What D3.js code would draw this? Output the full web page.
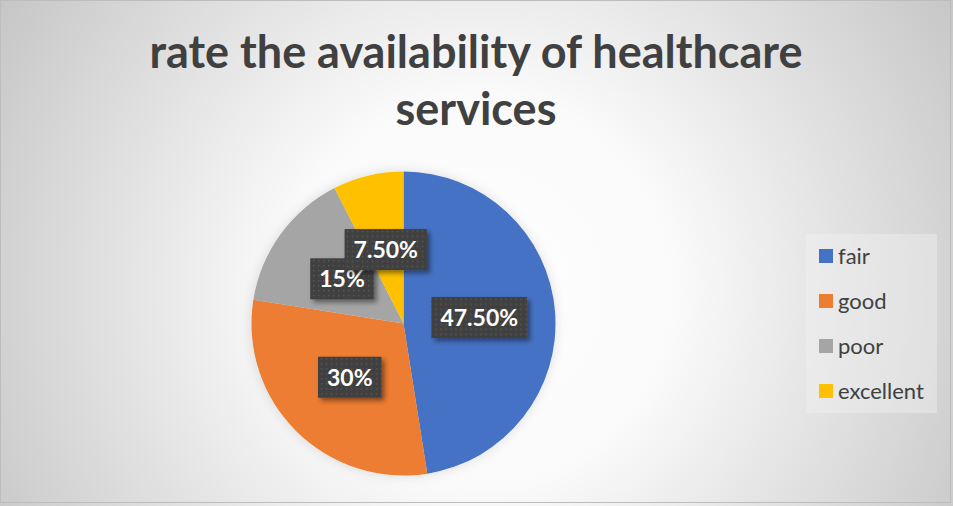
<!DOCTYPE html>
<head>
    <script type="text/javascript" src="https://d3js.org/d3.v7.min.js"></script>
    <style>
        body { margin: 0; }
        .chart text { font-family: Lato, "Open Sans", sans-serif; }
    </style>
</head>

<svg class="chart"></svg>

<script>

    var categories = ["fair", "good", "poor", "excellent"];
    var values = [47.5, 30, 15, 7.5];
    var labels = ["47.50%", "30%", "15%", "7.50%"];
    var colors = ["#4472C4", "#ED7D31", "#A5A5A5", "#FFC000"];
    var titleLines = ["rate the availability of healthcare", "services"];

    var width = 953,
        height = 506,
        cx = 403.5,
        cy = 323.5,
        radius = 152;

    var chart = d3.select(".chart")
        .attr("width", width)
        .attr("height", height);

    var defs = chart.append("defs");

    // background: soft radial gradient, white in the middle
    var bg = defs.append("radialGradient")
        .attr("id", "bg")
        .attr("gradientUnits", "userSpaceOnUse")
        .attr("cx", 480).attr("cy", 290).attr("r", 560);
    bg.append("stop").attr("offset", "0%").attr("stop-color", "#ffffff");
    bg.append("stop").attr("offset", "35%").attr("stop-color", "#fafafa");
    bg.append("stop").attr("offset", "100%").attr("stop-color", "#c6c6c6");

    // dotted texture for the label boxes
    var pat = defs.append("pattern")
        .attr("id", "dots")
        .attr("patternUnits", "userSpaceOnUse")
        .attr("width", 5).attr("height", 5);
    pat.append("rect").attr("width", 5).attr("height", 5).attr("fill", "#3f3f3f");
    pat.append("rect").attr("x", 1).attr("y", 1).attr("width", 1.5).attr("height", 1.5).attr("fill", "#595959");

    var shadow = defs.append("filter").attr("id", "shadow")
        .attr("x", "-20%").attr("y", "-20%").attr("width", "150%").attr("height", "160%");
    shadow.append("feDropShadow")
        .attr("dx", 3).attr("dy", 3).attr("stdDeviation", 2.5)
        .attr("flood-color", "#000").attr("flood-opacity", 0.45);

    var pieShadow = defs.append("filter").attr("id", "pieShadow")
        .attr("x", "-20%").attr("y", "-20%").attr("width", "140%").attr("height", "140%");
    pieShadow.append("feDropShadow")
        .attr("dx", 0).attr("dy", 0).attr("stdDeviation", 6)
        .attr("flood-color", "#000").attr("flood-opacity", 0.12);

    chart.append("rect")
        .attr("width", width).attr("height", height)
        .attr("fill", "url(#bg)");
    chart.append("rect")
        .attr("x", 0.5).attr("y", 0.5)
        .attr("width", width - 3).attr("height", height - 4)
        .attr("fill", "none").attr("stroke", "#bdbdbd");

    // title
    chart.append("g").selectAll("text")
        .data(titleLines)
        .enter().append("text")
        .attr("x", 476)
        .attr("y", function(d, i) { return 68 + i * 57; })
        .attr("text-anchor", "middle")
        .attr("fill", "#404040")
        .style("font-weight", "bold")
        .style("font-size", "45px")
        .text(function(d) { return d; });

    // pie
    var pie = d3.pie().sort(null).value(function(d) { return d; });
    var arc = d3.arc().innerRadius(0).outerRadius(radius);
    var arcs = pie(values);

    var g = chart.append("g")
        .attr("transform", "translate(" + cx + "," + cy + ")");

    g.append("g").attr("filter", "url(#pieShadow)")
        .selectAll("path")
        .data(arcs)
        .enter().append("path")
        .attr("d", arc)
        .attr("fill", function(d, i) { return colors[i]; });

    // data labels
    var lab = g.selectAll(".lab")
        .data(arcs)
        .enter().append("g")
        .attr("class", "lab")
        .attr("transform", function(d) { return "translate(" + arc.centroid(d) + ")"; });

    lab.append("text")
        .attr("text-anchor", "middle")
        .attr("dy", "0.36em")
        .attr("fill", "#ffffff")
        .style("font-weight", "bold")
        .style("font-size", "23px")
        .text(function(d, i) { return labels[i]; });

    lab.each(function() {
        var t = d3.select(this).select("text");
        var b = t.node().getBBox();
        d3.select(this).insert("rect", "text")
            .attr("x", b.x - 9)
            .attr("y", -20.5)
            .attr("width", b.width + 18)
            .attr("height", 41)
            .attr("fill", "url(#dots)")
            .attr("filter", "url(#shadow)");
    });

    // legend
    var legend = chart.append("g");
    legend.append("rect")
        .attr("x", 806).attr("y", 234)
        .attr("width", 131).attr("height", 179)
        .attr("fill", "#f2f2f2").attr("opacity", 0.4);

    var item = legend.selectAll(".item")
        .data(categories)
        .enter().append("g")
        .attr("class", "item")
        .attr("transform", function(d, i) { return "translate(819," + (256 + i * 45) + ")"; });

    item.append("rect")
        .attr("y", -7).attr("width", 14).attr("height", 14)
        .attr("fill", function(d, i) { return colors[i]; });

    item.append("text")
        .attr("x", 19)
        .attr("dy", "0.35em")
        .attr("fill", "#404040")
        .style("font-size", "22px")
        .text(function(d) { return d; });

</script>
